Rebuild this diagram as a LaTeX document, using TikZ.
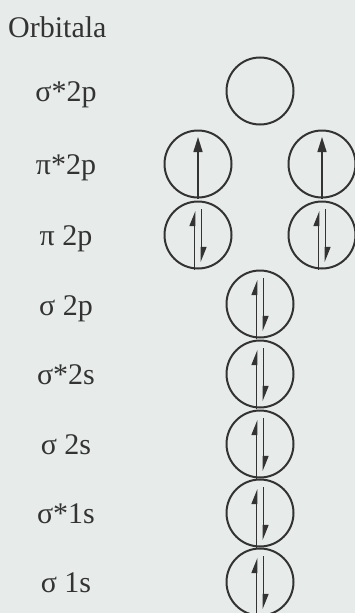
\documentclass[tikz,border=0pt]{standalone}
\usepackage{fontspec}
\setmainfont{Liberation Serif}
\usepackage{xcolor}
\usetikzlibrary{arrows.meta, positioning}
\definecolor{paper}{HTML}{E7EBEA}
\definecolor{ink}{HTML}{333333}
\tikzstyle{orbital} = [circle, draw=ink, line width=2pt, minimum size=67pt, inner sep=0pt]
\tikzstyle{orbname} = [anchor=base, font=\fontsize{30}{34}\selectfont, text=ink, inner sep=0pt]
\tikzstyle{spinfull} = [draw=ink, line width=1.6pt, -{Triangle[length=15pt, width=9pt]}]
\tikzstyle{spinhalf} = [draw=ink, line width=1.6pt, -{Triangle[left, length=13pt, width=10pt]}]

\begin{document}
\begin{tikzpicture}[x=1pt, y=1pt]
    \fill[paper] (0,0) rectangle (355,-613);
    \useasboundingbox (0,0) rectangle (355,-613);

    % names of the levels
    \node (title) [orbname, anchor=base west] at (8,-37) {Orbitala};
    \node (n8) [orbname] at (66,-101) {σ*2p};
    \node (n7) [orbname] at (66,-174) {π*2p};
    \node (n6) [orbname] at (66,-245) {π 2p};
    \node (n5) [orbname] at (66,-315) {σ 2p};
    \node (n4) [orbname] at (66,-384) {σ*2s};
    \node (n3) [orbname] at (66,-454) {σ 2s};
    \node (n2) [orbname] at (66,-523) {σ*1s};
    \node (n1) [orbname] at (66,-592) {σ 1s};

    % boxes
    \node (sig2pst) [orbital] at (260,-91) {};
    \node (pi2past) [orbital] at (198,-164) {};
    \node (pi2pbst) [orbital] at (322,-164) {};
    \node (pi2pa) [orbital] at (198,-235) {};
    \node (pi2pb) [orbital] at (322,-235) {};
    \node (sig2p) [orbital] at (260,-304) {};
    \node (sig2sst) [orbital] at (260,-374) {};
    \node (sig2s) [orbital] at (260,-444) {};
    \node (sig1sst) [orbital] at (260,-513) {};
    \node (sig1s) [orbital] at (260,-582) {};

    % single electrons
    \draw [spinfull] (pi2past.south) -- ([yshift=27pt]pi2past.center);
    \draw [spinfull] (pi2pbst.south) -- ([yshift=27pt]pi2pbst.center);

    % pairs
    \draw [spinhalf] ([xshift=-3.5pt]pi2pa.south) -- ([xshift=-3.5pt, yshift=24pt]pi2pa.center);
    \draw [spinhalf] ([xshift=3.5pt, yshift=26pt]pi2pa.center) -- ([xshift=3.5pt, yshift=-27pt]pi2pa.center);
    \draw [spinhalf] ([xshift=-3.5pt]pi2pb.south) -- ([xshift=-3.5pt, yshift=24pt]pi2pb.center);
    \draw [spinhalf] ([xshift=3.5pt, yshift=26pt]pi2pb.center) -- ([xshift=3.5pt, yshift=-27pt]pi2pb.center);
    \draw [spinhalf] ([xshift=-3.5pt]sig2p.south) -- ([xshift=-3.5pt, yshift=24pt]sig2p.center);
    \draw [spinhalf] ([xshift=3.5pt, yshift=26pt]sig2p.center) -- ([xshift=3.5pt, yshift=-27pt]sig2p.center);
    \draw [spinhalf] ([xshift=-3.5pt]sig2sst.south) -- ([xshift=-3.5pt, yshift=24pt]sig2sst.center);
    \draw [spinhalf] ([xshift=3.5pt, yshift=26pt]sig2sst.center) -- ([xshift=3.5pt, yshift=-27pt]sig2sst.center);
    \draw [spinhalf] ([xshift=-3.5pt]sig2s.south) -- ([xshift=-3.5pt, yshift=24pt]sig2s.center);
    \draw [spinhalf] ([xshift=3.5pt, yshift=26pt]sig2s.center) -- ([xshift=3.5pt, yshift=-27pt]sig2s.center);
    \draw [spinhalf] ([xshift=-3.5pt]sig1sst.south) -- ([xshift=-3.5pt, yshift=24pt]sig1sst.center);
    \draw [spinhalf] ([xshift=3.5pt, yshift=26pt]sig1sst.center) -- ([xshift=3.5pt, yshift=-27pt]sig1sst.center);
    \draw [spinhalf] ([xshift=-3.5pt]sig1s.south) -- ([xshift=-3.5pt, yshift=24pt]sig1s.center);
    \draw [spinhalf] ([xshift=3.5pt, yshift=26pt]sig1s.center) -- ([xshift=3.5pt, yshift=-27pt]sig1s.center);
\end{tikzpicture}
\end{document}
